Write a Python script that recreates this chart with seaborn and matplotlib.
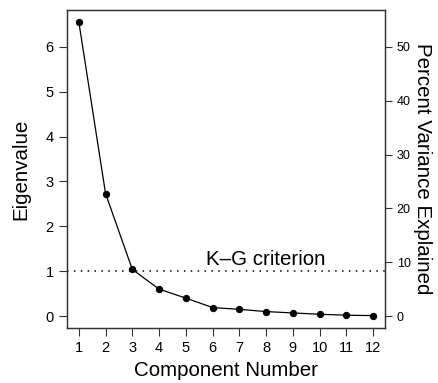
import matplotlib
matplotlib.use("Agg")
import matplotlib.pyplot as plt
import numpy as np
import pandas as pd
import seaborn as sns

# Data
components = [1, 2, 3, 4, 5, 6, 7, 8, 9, 10, 11, 12]
eigenvalues = [6.56, 2.73, 1.04, 0.60, 0.40, 0.19, 0.15, 0.10, 0.07, 0.04, 0.02, 0.01]
n_vars = 12  # total variance = number of variables
kg_cutoff = 1.0
kg_label = "K\u2013G criterion"

df = pd.DataFrame({"component": components, "eigenvalue": eigenvalues})

sns.set_style("ticks")
plt.rcParams["font.family"] = ["Liberation Sans", "DejaVu Sans"]
plt.rcParams["text.color"] = "black"
plt.rcParams["axes.labelcolor"] = "black"
plt.rcParams["xtick.color"] = "black"
plt.rcParams["ytick.color"] = "black"

fig = plt.figure(figsize=(4.38, 3.83), dpi=100)
ax = fig.add_axes([0.153, 0.144, 0.726, 0.830])

sns.lineplot(data=df, x="component", y="eigenvalue", ax=ax, color="black",
             linewidth=0.9, marker="o", markersize=4.5, markeredgecolor="black")

ax.axhline(kg_cutoff, color="black", linestyle=(0, (1, 3.5)), linewidth=1.1)
ax.text(8, kg_cutoff + 0.05, kg_label, ha="center", va="bottom", fontsize=14.8)

span = max(components) - min(components)
ax.set_xlim(min(components) - 0.04 * span, max(components) + 0.04 * span)
ymax = max(eigenvalues)
ax.set_ylim(-0.04 * ymax, ymax * 1.04)
ax.set_xticks(components)
ax.set_yticks(range(0, 7))
ax.set_xlabel("Component Number", fontsize=14.8, labelpad=4)
ax.set_ylabel("Eigenvalue", fontsize=14.8, labelpad=11)
ax.tick_params(axis="both", labelsize=10.5, length=6, width=0.8, color="#333333")

for s in ax.spines.values():
    s.set_linewidth(0.9)
    s.set_color("#333333")

ax2 = ax.twinx()
lo, hi = ax.get_ylim()
ax2.set_ylim(lo * 100 / n_vars, hi * 100 / n_vars)
ax2.set_yticks(range(0, 60, 10))
ax2.tick_params(axis="y", labelsize=9, length=5, width=0.8, color="#333333")
ax2.set_ylabel("Percent Variance Explained", fontsize=14.8, rotation=270,
               labelpad=15)
for s in ax2.spines.values():
    s.set_linewidth(0.9)
    s.set_color("#333333")

fig.savefig("out.png", dpi=100)
